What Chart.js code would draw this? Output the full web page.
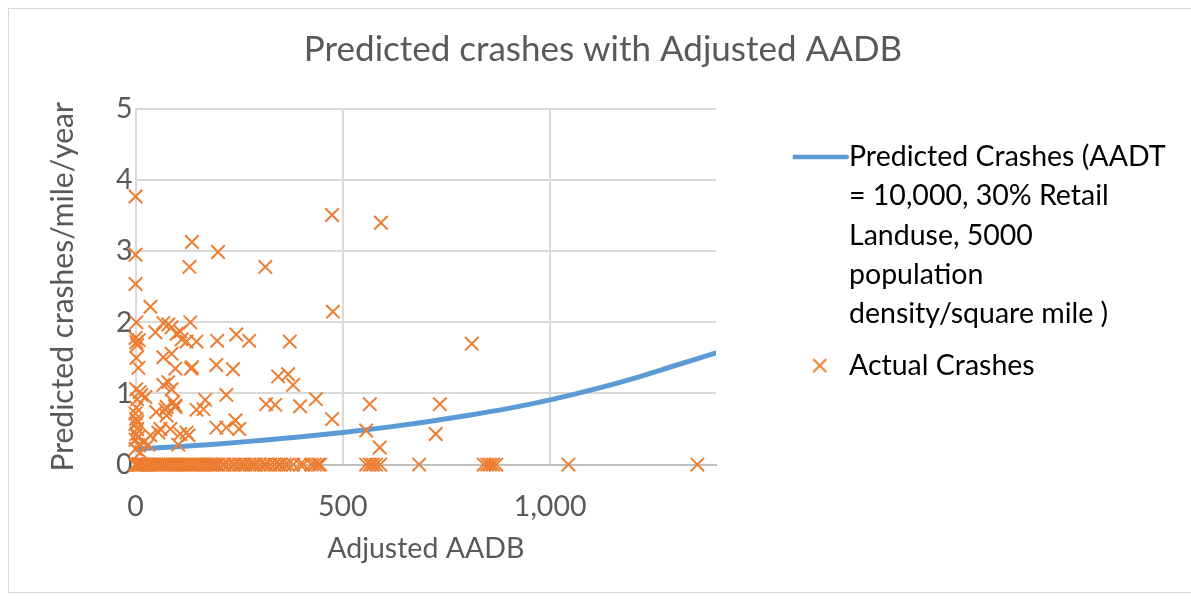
<!DOCTYPE html>
<html>
<head>
<meta charset="utf-8">
<script src="https://cdn.jsdelivr.net/npm/chart.js@4.4.1/dist/chart.umd.min.js"></script>
<style>
html, body { margin: 0; padding: 0; background: #ffffff; }
#wrap { width: 1191px; height: 599px; position: relative; }
</style>
</head>
<body>
<div id="wrap"><canvas id="c" width="1191" height="599"></canvas></div>
<script>
// ---- text ----
const chartTitle = 'Predicted crashes with Adjusted AADB';
const xAxisTitle = 'Adjusted AADB';
const yAxisTitle = 'Predicted crashes/mile/year';
const predictedLabel = ['Predicted Crashes (AADT', '= 10,000, 30% Retail', 'Landuse, 5000', 'population', 'density/square mile )'];
const actualLabel = ['Actual Crashes'];

// ---- axis ticks ----
const xTickValues = [0, 500, 1000];
const yTickValues = [0, 1, 2, 3, 4, 5];

// ---- predicted crashes curve ----
const predictedX = [0, 100, 200, 300, 400, 500, 600, 700, 800, 900, 1000, 1100, 1200, 1300, 1400];
const predictedY = [0.22, 0.25, 0.29, 0.34, 0.39, 0.45, 0.52, 0.60, 0.69, 0.79, 0.91, 1.05, 1.21, 1.39, 1.57];

// ---- actual crashes ----
const actualX = [
  0, 0, 0, 136, 130, 199, 313, 474, 592, 476, 811, 36,
  2, 67, 79, 48, 132, 87, 108,
  0, 2, 4, 8, 99, 111, 123, 147, 197, 243, 274, 372,
  2, 7, 67, 87, 96, 134, 136, 195, 235, 344, 368, 380,
  2, 10, 14, 24, 4, 67, 79, 87, 91, 72, 96, 147, 168, 219, 315, 337, 397, 435, 565, 734,
  2, 0, 2, 0, 4, 2, 0, 50, 75, 75, 96, 164, 60, 84, 108, 123, 36, 55, 128, 195, 219, 241, 250, 474, 556, 724, 589, 19, 31, 103, 8, 0, 12, 4, 6,
  0, 0, 0, 0, 2, 4, 6, 8, 10, 13, 16, 20, 24, 28, 32, 36, 40, 45, 50, 55, 60, 65, 70, 75, 80, 85, 90, 95, 100, 105, 110, 115, 120, 125, 130, 135, 140, 145, 150, 155, 160, 165, 170, 175, 180, 185, 190, 195, 200,
  210, 215, 225, 235, 240, 250, 258, 265, 275, 283, 290, 300, 310, 315, 325, 335, 345, 350, 360, 368, 380, 397, 405, 424, 432, 440, 445,
  556, 565, 572, 580, 590, 684, 840, 848, 855, 862, 870, 1044, 1355
];
const actualY = [
  3.77, 2.95, 2.54, 3.13, 2.78, 2.99, 2.78, 3.51, 3.40, 2.15, 1.70, 2.22,
  2.00, 1.99, 1.97, 1.86, 2.00, 1.93, 1.87,
  1.78, 1.72, 1.68, 1.75, 1.84, 1.76, 1.73, 1.73, 1.74, 1.83, 1.74, 1.73,
  1.50, 1.36, 1.51, 1.56, 1.35, 1.35, 1.37, 1.40, 1.34, 1.24, 1.27, 1.12,
  1.06, 1.02, 0.98, 0.95, 0.92, 1.12, 1.16, 1.06, 0.88, 0.77, 0.83, 0.77, 0.91, 0.98, 0.85, 0.84, 0.82, 0.92, 0.85, 0.85,
  0.80, 0.72, 0.64, 0.57, 0.50, 0.43, 0.35, 0.74, 0.81, 0.69, 0.81, 0.78, 0.50, 0.50, 0.43, 0.45, 0.41, 0.45, 0.41, 0.52, 0.52, 0.62, 0.50, 0.64, 0.48, 0.43, 0.24, 0.31, 0.28, 0.28, 0.27, 0.22, 0.17, 0.60, 0.38,
  0, 0, 0, 0, 0, 0, 0, 0, 0, 0, 0, 0, 0, 0, 0, 0, 0, 0, 0, 0, 0, 0, 0, 0, 0, 0, 0, 0, 0, 0, 0, 0, 0, 0, 0, 0, 0, 0, 0, 0, 0, 0, 0, 0, 0, 0, 0, 0, 0,
  0, 0, 0, 0, 0, 0, 0, 0, 0, 0, 0, 0, 0, 0, 0, 0, 0, 0, 0, 0, 0, 0, 0, 0, 0, 0, 0,
  0, 0, 0, 0, 0, 0, 0, 0, 0, 0, 0, 0, 0
];

// ---- colours ----
const blue = '#5b9bd5';
const orange = '#ed7d31';
const textColor = '#595959';
const gridColor = '#d9d9d9';

// legend icons
function makeLineIcon() {
  const c = document.createElement('canvas');
  c.width = 60; c.height = 8;
  const g = c.getContext('2d');
  g.strokeStyle = blue; g.lineWidth = 4.5; g.lineCap = 'round';
  g.beginPath(); g.moveTo(3, 4); g.lineTo(57, 4); g.stroke();
  return c;
}
function makeCrossIcon() {
  const c = document.createElement('canvas');
  c.width = 16; c.height = 16;
  const g = c.getContext('2d');
  g.strokeStyle = orange; g.lineWidth = 2;
  g.beginPath(); g.moveTo(1.5, 1.5); g.lineTo(14.5, 14.5); g.moveTo(14.5, 1.5); g.lineTo(1.5, 14.5); g.stroke();
  return c;
}

const frame = {
  id: 'frame',
  beforeDraw(chart) {
    const ctx = chart.ctx;
    ctx.save();
    ctx.strokeStyle = gridColor; ctx.lineWidth = 1;
    ctx.strokeRect(8.5, 8.5, 1200, 584);
    ctx.restore();
  }
};
const placeBlocks = {
  id: 'placeBlocks',
  afterLayout(chart) {
    const lg = chart.legend;
    if (lg) {
      const h = lg.bottom - lg.top;
      lg.left = 792.75; lg.right = 1191;
      lg.top = 130.75; lg.bottom = lg.top + h;
    }
    const tb = chart.titleBlock;
    if (tb) { tb.left = 8; tb.right = 1198; }
  }
};

function build() {
  Chart.defaults.font.family = 'Lato, "Open Sans", sans-serif';
  Chart.defaults.color = textColor;
  const lineIcon = makeLineIcon();
  const crossIcon = makeCrossIcon();
  new Chart(document.getElementById('c'), {
    type: 'scatter',
    data: {
      datasets: [
        {
          type: 'line',
          label: predictedLabel.join(' '),
          data: predictedX.map((x, i) => ({x: x, y: predictedY[i]})),
          borderColor: blue,
          borderWidth: 5,
          borderCapStyle: 'round',
          pointRadius: 0,
          fill: false,
          cubicInterpolationMode: 'monotone',
          order: 1
        },
        {
          label: actualLabel.join(' '),
          data: actualX.map((x, i) => ({x: x, y: actualY[i]})),
          pointStyle: 'crossRot',
          pointRadius: 9.5,
          borderWidth: 2,
          borderColor: orange,
          backgroundColor: orange,
          clip: false,
          order: 0
        }
      ]
    },
    options: {
      responsive: false,
      animation: false,
      events: [],
      layout: { padding: { left: 20, right: 115, top: 10, bottom: 33 } },
      plugins: {
        title: {
          display: true,
          text: chartTitle,
          color: textColor,
          font: { size: 35, weight: '400', lineHeight: 1.2 },
          padding: { top: 19, bottom: 38 }
        },
        legend: {
          position: 'right',
          align: 'start',
          maxWidth: 360,
          labels: {
            usePointStyle: true,
            pointStyleWidth: 30,
            boxHeight: 14,
            padding: 12,
            color: textColor,
            font: { size: 28.5, lineHeight: 1.379 },
            generateLabels: () => [
              { text: predictedLabel, pointStyle: lineIcon, fillStyle: blue, strokeStyle: blue, lineWidth: 0, hidden: false, datasetIndex: 0 },
              { text: actualLabel, pointStyle: crossIcon, fillStyle: orange, strokeStyle: orange, lineWidth: 0, hidden: false, datasetIndex: 1 }
            ]
          }
        },
        tooltip: { enabled: false }
      },
      scales: {
        x: {
          type: 'linear',
          min: 0,
          max: 1400,
          afterBuildTicks: (scale) => { scale.ticks = xTickValues.map(v => ({ value: v })); },
          ticks: {
            color: textColor,
            font: { size: 28.5 },
            padding: 25,
            callback: (v) => Number(v).toLocaleString('en-US')
          },
          grid: { color: gridColor, lineWidth: 2, drawTicks: false },
          border: { color: '#bfbfbf', width: 2 },
          title: {
            display: true,
            text: xAxisTitle,
            color: textColor,
            font: { size: 28.5, lineHeight: 1.2 },
            padding: { top: -17, bottom: 0 }
          }
        },
        y: {
          type: 'linear',
          min: 0,
          max: 5,
          afterBuildTicks: (scale) => { scale.ticks = yTickValues.map(v => ({ value: v })); },
          ticks: {
            color: textColor,
            font: { size: 28.5 },
            padding: 3
          },
          grid: { color: gridColor, lineWidth: 2, drawTicks: false },
          border: { color: gridColor, width: 2 },
          title: {
            display: true,
            text: yAxisTitle,
            color: textColor,
            font: { size: 30, lineHeight: 1.2 },
            padding: { top: 25, bottom: 32 }
          }
        }
      }
    },
    plugins: [frame, placeBlocks]
  });
}

if (document.fonts && document.fonts.load) {
  Promise.all([
    document.fonts.load('28px Lato'),
    document.fonts.load('35px Lato')
  ]).then(build, build);
} else {
  build();
}
</script>
</body>
</html>
